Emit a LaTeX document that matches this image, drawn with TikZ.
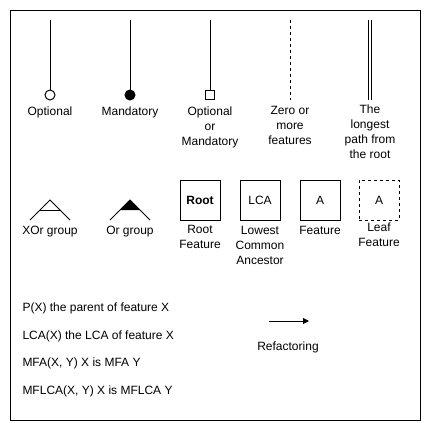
\documentclass[tikz,border=0pt]{standalone}
\usepackage{fontspec}
\setmainfont{Liberation Sans}
\usepackage{tikz}
\usetikzlibrary{arrows.meta, positioning}

\begin{document}
\begin{tikzpicture}[
        x=0.75pt, y=-0.75pt,
        every path/.style={line width=0.75pt},
        lbl/.style={
            align=center,
            inner sep=0pt,
            anchor=north,
            font=\fontsize{9}{11.25}\selectfont
        },
        note/.style={
            inner sep=0pt,
            anchor=north west,
            font=\fontsize{9}{11.25}\selectfont
        },
        featbox/.style={
            rectangle,
            draw,
            minimum size=30pt,
            inner sep=0pt,
            font=\fontsize{9}{11.25}\selectfont
        },
        optcircle/.style={circle, draw, fill=white, minimum size=7.5pt, inner sep=0pt},
        mandcircle/.style={circle, draw, fill=black, minimum size=7.5pt, inner sep=0pt},
        eithersquare/.style={rectangle, draw, fill=white, minimum size=6.75pt, inner sep=0pt},
        arrow/.style={-{Triangle[length=4.5pt, width=4.5pt]}}
    ]
        \useasboundingbox (0,0) rectangle (432,422);
        \draw (10,10) rectangle (420,420);

        % first row: relations
        \coordinate (opttop) at (50,20);
        \node[optcircle] (opt) at (50,95) {};
        \node[lbl] (optlbl) at (50,106) {Optional};

        \coordinate (mandtop) at (130,20);
        \node[mandcircle] (mand) at (130,95) {};
        \node[lbl] (mandlbl) at (130,106) {Mandatory};

        \coordinate (eithertop) at (210,20);
        \node[eithersquare] (either) at (210,95) {};
        \node[lbl] (eitherlbl) at (210,106) {Optional\\or\\Mandatory};

        \coordinate (zerotop) at (290,20);
        \coordinate (zerobot) at (290,100);
        \node[lbl] (zerolbl) at (290,106) {Zero or\\more\\features};

        \coordinate (longtop) at (370,20);
        \coordinate (longbot) at (370,100);
        \node[lbl] (longlbl) at (370,104) {The\\longest\\path from\\the root};

        \draw (opttop) -- (opt);
        \draw (mandtop) -- (mand);
        \draw (eithertop) -- (either);
        \draw[dash pattern=on 2.25pt off 2.25pt] (zerotop) -- (zerobot);
        \draw[double, double distance=1.8pt] (longtop) -- (longbot);

        % second row: groups and features
        \coordinate (xorapex) at (50,200);
        \coordinate (xorleft) at (30,220);
        \coordinate (xorright) at (70,220);
        \draw (xorleft) -- (xorapex) -- (xorright);
        \draw (40,210) -- (60,210);
        \node[lbl] (xorlbl) at (50,226) {XOr group};

        \coordinate (orapex) at (130,200);
        \coordinate (orleft) at (110,220);
        \coordinate (orright) at (150,220);
        \fill (orapex) -- (120,210) -- (140,210) -- cycle;
        \draw (orleft) -- (orapex) -- (orright);
        \node[lbl] (orlbl) at (130,226) {Or group};

        \node[featbox, font=\fontsize{9}{11.25}\selectfont\bfseries] (root) at (200,200) {Root};
        \node[lbl] (rootlbl) at (200,225) {Root\\Feature};

        \node[featbox] (lca) at (260,200) {LCA};
        \node[lbl] (lcalbl) at (260,226) {Lowest\\Common\\Ancestor};

        \node[featbox] (feat) at (320,200) {A};
        \node[lbl] (featlbl) at (320,226) {Feature};

        \node[featbox, dash pattern=on 2.25pt off 2.25pt] (leaf) at (379,200) {A};
        \node[lbl] (leaflbl) at (379,222) {Leaf\\Feature};

        % notation
        \node[note] (parent) at (22,302) {P(X) the parent of feature X};
        \node[note] (lcaof) at (22,330) {LCA(X) the LCA of feature X};
        \node[note] (mfa) at (22,357) {MFA(X, Y) X is MFA Y};
        \node[note] (mflca) at (22,385) {MFLCA(X, Y) X is MFLCA Y};

        \coordinate (refstart) at (269,321);
        \coordinate (refend) at (309,321);
        \draw[arrow] (refstart) -- (refend);
        \node[lbl] (reflbl) at (288,341) {Refactoring};

    \end{tikzpicture}
\end{document}
